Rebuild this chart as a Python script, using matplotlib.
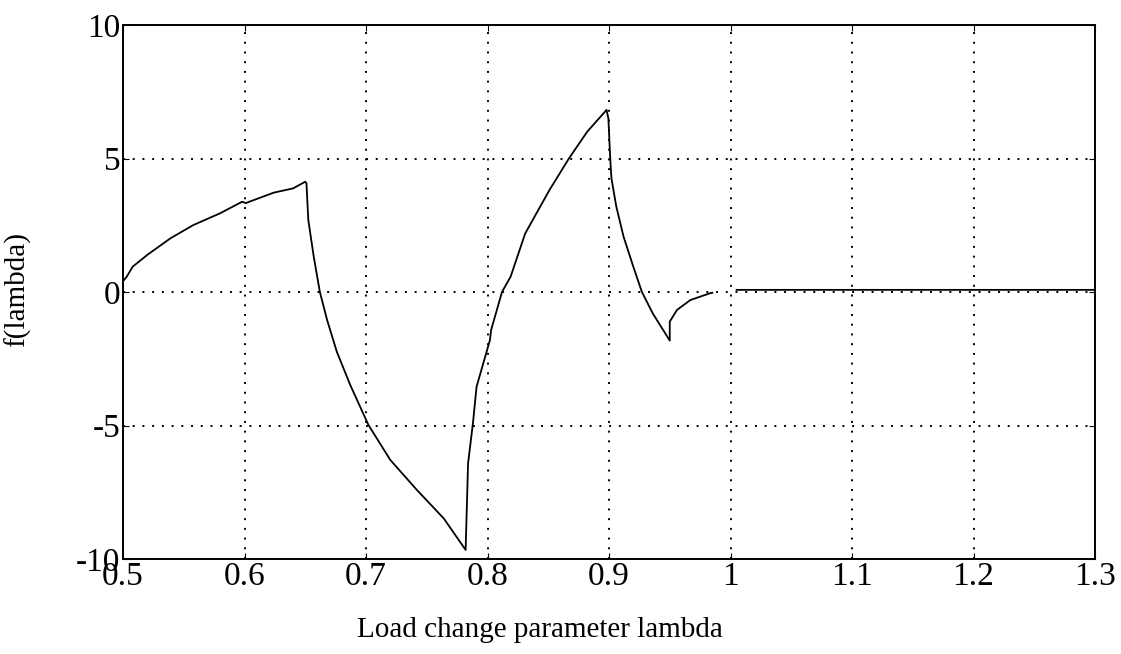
import numpy as np
import matplotlib.pyplot as plt

plt.rcParams['font.family'] = ['Liberation Serif', 'DejaVu Serif']
plt.rcParams['axes.unicode_minus'] = False

# curve (NaN marks the small gap near lambda = 1)
lam = [0.500, 0.503, 0.508, 0.520, 0.539, 0.558, 0.580, 0.598, 0.601, 0.624,
       0.640, 0.650, 0.651, 0.6525, 0.657, 0.662, 0.668, 0.676, 0.687, 0.702,
       0.720, 0.742, 0.764, 0.782, 0.784, 0.788, 0.791, 0.802, 0.803, 0.812,
       0.819, 0.831, 0.851, 0.867, 0.882, 0.898, 0.8995, 0.901, 0.902, 0.906,
       0.912, 0.920, 0.927, 0.936, 0.950, 0.950, 0.956, 0.967, 0.983, 0.985,
       0.995, 1.005, 1.100, 1.200, 1.300]
f = [0.40, 0.57, 0.95, 1.39, 2.01, 2.51, 2.95, 3.38, 3.33, 3.72,
     3.88, 4.13, 4.07, 2.70, 1.32, 0.01, -1.05, -2.24, -3.48, -4.98,
     -6.29, -7.42, -8.48, -9.66, -6.42, -4.92, -3.55, -1.80, -1.42, 0.01,
     0.57, 2.19, 3.82, 5.00, 6.00, 6.82, 6.50, 5.00, 4.26, 3.20,
     2.07, 0.95, 0.01, -0.80, -1.82, -1.11, -0.67, -0.30, -0.05, -0.03,
     np.nan, 0.08, 0.08, 0.08, 0.08]

xticks = [0.5, 0.6, 0.7, 0.8, 0.9, 1.0, 1.1, 1.2, 1.3]
xticklabels = ['0.5', '0.6', '0.7', '0.8', '0.9', '1', '1.1', '1.2', '1.3']
yticks = [-10, -5, 0, 5, 10]

fig = plt.figure(figsize=(11.21, 6.54), dpi=100)
ax = fig.add_axes([123 / 1121, 1 - 559 / 654, 972 / 1121, 534 / 654])

ax.plot(lam, f, color='black', linewidth=1.3)

ax.set_xlim(0.5, 1.3)
ax.set_ylim(-10, 10)
ax.set_xticks(xticks)
ax.set_xticklabels(xticklabels)
ax.set_yticks(yticks)
ax.grid(True, color='black', linestyle=(0, (1, 4)), linewidth=1.4)
ax.tick_params(direction='in', length=4, labelsize=24, top=True, right=True,
               pad=2)
for s in ax.spines.values():
    s.set_linewidth(1.4)

ax.set_xlabel('Load change parameter lambda', fontsize=21)
ax.xaxis.set_label_coords(0.429, -0.108)
ax.set_ylabel('f(lambda)', fontsize=21)
ax.yaxis.set_label_coords(-0.095, 0.505)

fig.savefig('out.png', dpi=100, facecolor='white')
